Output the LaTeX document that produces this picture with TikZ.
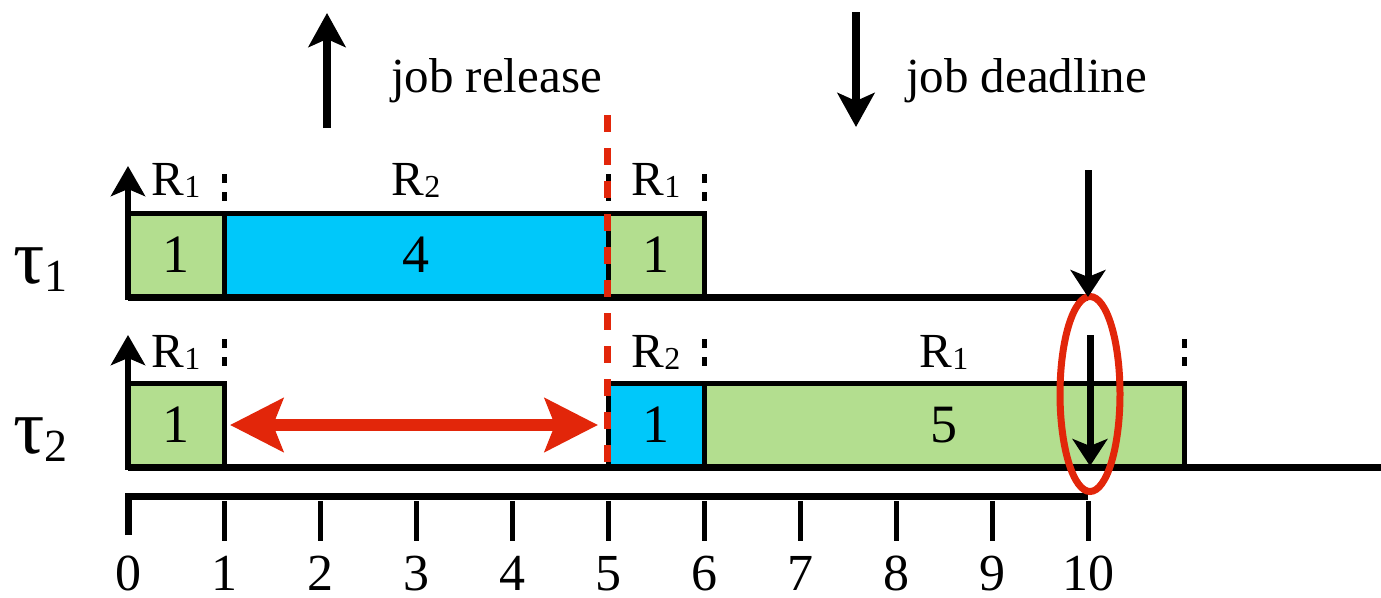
\documentclass[tikz,border=0pt]{standalone}
\usepackage{fontspec}
\setmainfont{Liberation Serif}
\usetikzlibrary{arrows.meta,shapes.geometric}
\definecolor{boxgreen}{RGB}{179,222,143}
\definecolor{boxblue}{RGB}{0,200,250}
\definecolor{myred}{RGB}{226,38,10}
\newcommand{\Rlab}[1]{R\raisebox{-2pt}{\fontsize{32}{32}\selectfont #1}}
\newcommand{\taulab}[1]{{\fontsize{78}{78}\selectfont τ}\raisebox{-8pt}{\fontsize{46}{46}\selectfont #1}}
\begin{document}
\begin{tikzpicture}[x=1pt,y=-1pt,
  every node/.style={inner sep=0pt, outer sep=0pt},
  gbox/.style={draw=black, line width=5pt, fill=boxgreen, font=\fontsize{54}{54}\selectfont, minimum height=84pt, anchor=south west},
  bbox/.style={gbox, fill=boxblue},
  rlab/.style={font=\fontsize{49}{49}\selectfont, anchor=base},
  rowline/.style={line width=7pt},
  sepmark/.style={line width=5pt, dash pattern=on 9pt off 9pt},
  axarrow/.style={line width=6pt, -{Stealth[length=30pt,width=34pt,inset=7pt]}},
  legarrow/.style={line width=8pt, -{Stealth[length=34pt,width=37pt,inset=8pt]}},
  dlarrow/.style={line width=7pt, -{Stealth[length=27pt,width=35pt,inset=7pt]}},
  tick/.style={line width=5pt},
  ticklab/.style={font=\fontsize{52}{52}\selectfont, anchor=base},
  legtext/.style={font=\fontsize{49}{49}\selectfont, anchor=base west},
]
\useasboundingbox (0,0) rectangle (1381,597);

% boxes tau1
\node[gbox, minimum width=96pt] (a11) at (128,297) {1};
\node[bbox, minimum width=384pt] (a12) at (224,297) {4};
\node[gbox, minimum width=96pt] (a13) at (608,297) {1};
% boxes tau2
\node[gbox, minimum width=96pt] (b21) at (128,467) {1};
\node[bbox, minimum width=96pt] (b22) at (608,467) {1};
\node[gbox, minimum width=480pt] (b23) at (704,467) {5};

% resource labels
\node[rlab] (l11) at (176,195) {\Rlab{1}};
\node[rlab] (l12) at (416,195) {\Rlab{2}};
\node[rlab] (l13) at (656,195) {\Rlab{1}};
\node[rlab] (l21) at (176,367) {\Rlab{1}};
\node[rlab] (l22) at (656,367) {\Rlab{2}};
\node[rlab] (l23) at (944,367) {\Rlab{1}};

% separators
\foreach \x in {224,608,704} \draw[sepmark] (\x,174) -- (\x,201);
\foreach \x in {224,704,1184} \draw[sepmark] (\x,339) -- (\x,368);

% row baselines
\coordinate (o1) at (128,297);
\coordinate (e1) at (1088,297);
\coordinate (o2) at (128,467);
\coordinate (e2) at (1381,467);
\draw[rowline] (o1) -- (e1);
\draw[rowline] (o2) -- (e2);
\coordinate (y1) at (128,166);
\coordinate (y2) at (128,335);
\draw[axarrow] ([yshift=-3pt]o1) -- (y1);
\draw[axarrow] ([yshift=-3pt]o2) -- (y2);

% task labels
\node[anchor=base west] (tau1) at (13,283) {\taulab{1}};
\node[anchor=base west] (tau2) at (13,453) {\taulab{2}};

% time axis
\coordinate (t0) at (128,496);
\coordinate (t10) at (1088,496);
\coordinate (t0b) at (128,535);
\draw[rowline, line join=miter] (t0b) -- (t0) -- (t10);
\foreach \k in {1,...,10} \draw[tick] ({128+\k*96},501) -- ({128+\k*96},541);
\foreach \k in {0,...,10} \node[ticklab] (n\k) at ({128+\k*96},590) {\k};

% legend
\coordinate (ru) at (327,128);
\coordinate (rt) at (327,13);
\draw[legarrow] (ru) -- (rt);
\node[legtext] (rel) at (391,92) {job release};
\coordinate (du) at (856,12);
\coordinate (dt) at (856,127);
\draw[legarrow] (du) -- (dt);
\node[legtext] (ddl) at (906,92) {job deadline};

% waiting double arrow
\draw[myred, line width=12pt, {Stealth[length=53pt,width=53pt,inset=10pt]}-{Stealth[length=53pt,width=53pt,inset=10pt]}] ([xshift=6pt]b21.east) -- ([xshift=-10pt]b22.west);

% red dashed release line
\coordinate (rd1) at (607,115);
\coordinate (rd2) at (607,467);
\draw[myred, line width=7pt, dash pattern=on 17pt off 16pt] (rd1) -- (rd2);

% ellipse
\node[draw=myred, line width=7pt, ellipse, minimum width=60pt, minimum height=195pt] (ell) at (1090,394) {};

% deadline arrows
\coordinate (d1) at (1088,170);
\coordinate (d2) at (1090,335);
\draw[dlarrow] (d1) -- (e1);
\draw[dlarrow] (d2) -- (1090,466);
\end{tikzpicture}
\end{document}
